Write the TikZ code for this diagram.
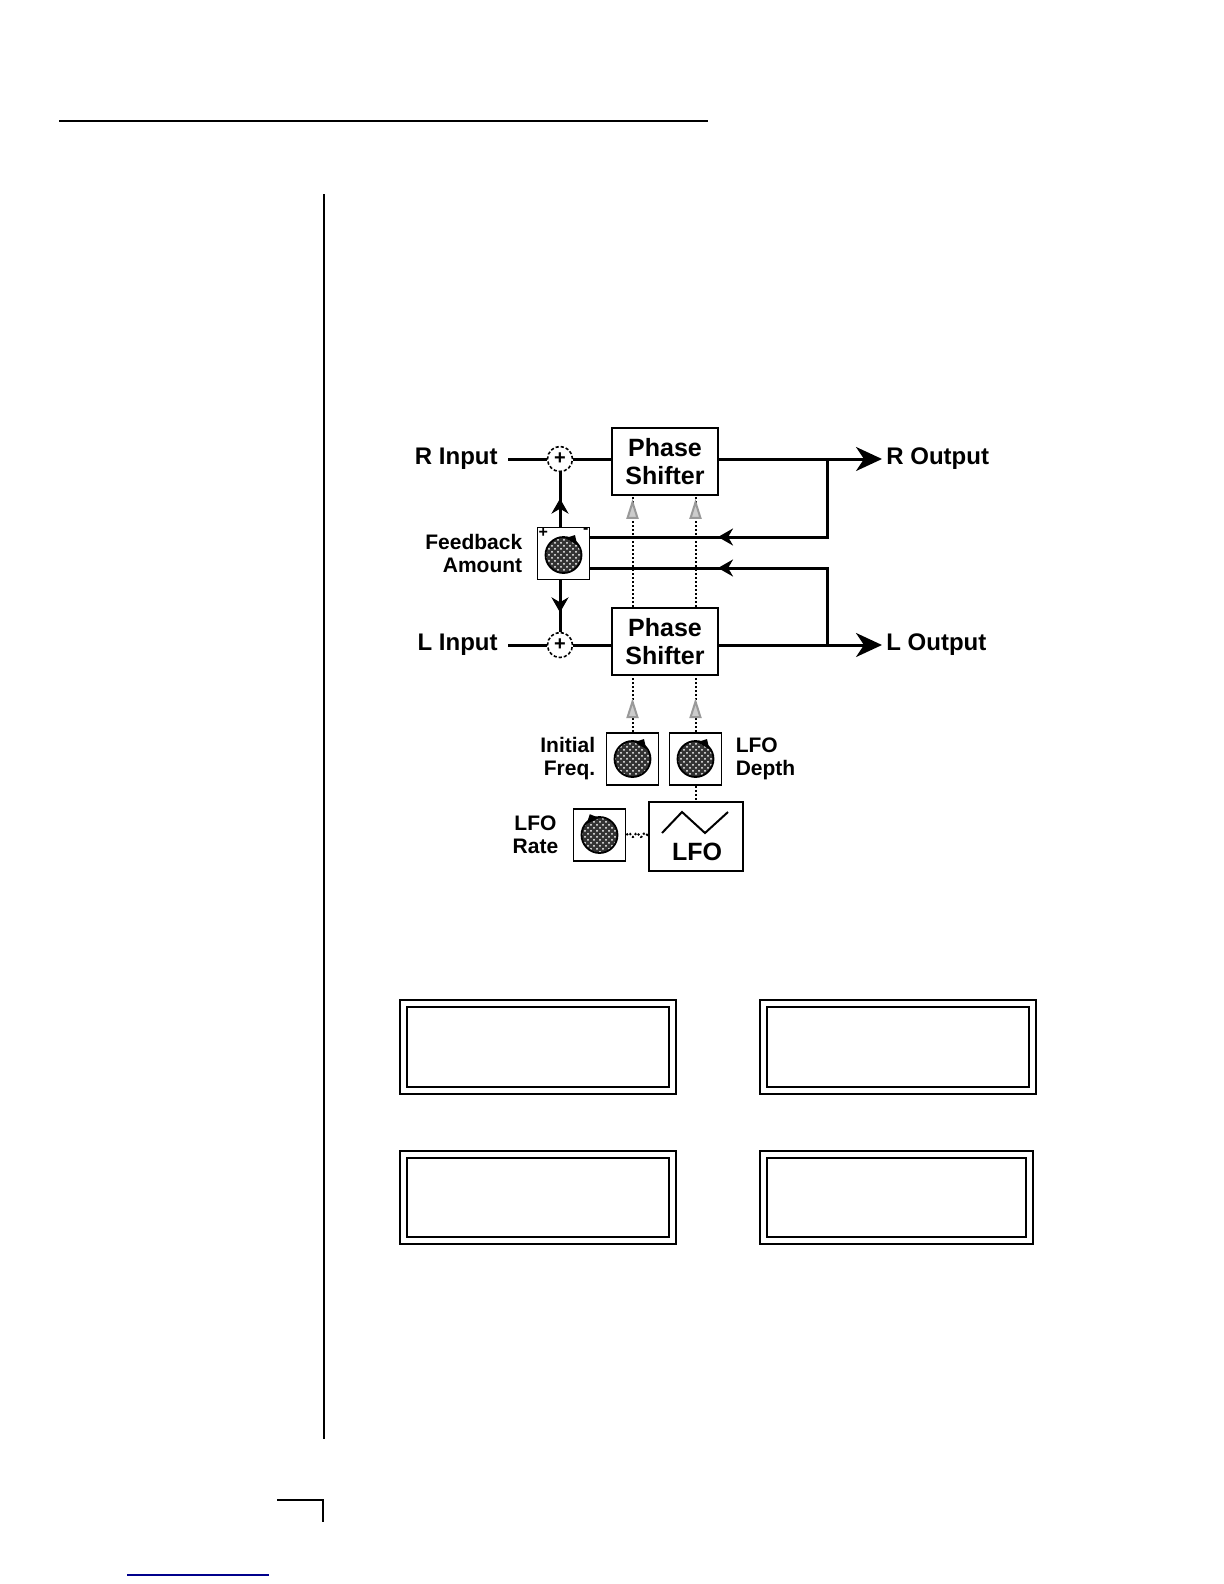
\documentclass[tikz,border=0pt]{standalone}
\usepackage{fontspec}
\setmainfont{Liberation Sans}
\usetikzlibrary{arrows.meta,positioning,patterns,decorations.markings,decorations.pathmorphing}

\tikzset{
  shifter/.style={draw, line width=1.2pt, minimum width=53pt, minimum height=33.5pt, inner sep=0pt, align=center, font=\fontsize{12.5}{14}\selectfont\bfseries},
  knobbox/.style={draw, line width=0.9pt, minimum width=26pt, minimum height=26pt, inner sep=0pt},
  knob/.style={circle, draw, line width=0.9pt, minimum size=18pt, inner sep=0pt, preaction={fill=black!80}, pattern=crosshatch dots, pattern color=white},
  sum/.style={circle, draw, dash pattern=on 1.6pt off 1pt, line width=0.8pt, minimum size=12.5pt, inner sep=0pt, font=\fontsize{10}{10}\selectfont\bfseries},
  sig/.style={line width=1.5pt},
  ctrl/.style={densely dotted, line width=1pt},
  lbl/.style={font=\fontsize{12}{14}\selectfont\bfseries, inner sep=2pt},
  knoblbl/.style={font=\fontsize{10.5}{11.5}\selectfont\bfseries, align=right, inner sep=0pt},
  lcd/.style={draw, double, line width=0.9pt, double distance=2.6pt, inner sep=0pt},
  midarrow/.style={postaction={decorate}, decoration={markings, mark=at position #1 with {\arrow{Stealth[length=7.5pt,width=8.5pt]}}}},
  ctrlarrow/.style={postaction={decorate}, decoration={markings, mark=at position #1 with {\arrow{Triangle[length=10pt,width=6pt,fill=gray!40,color=gray!80]}}}},
}

\begin{document}
\begin{tikzpicture}[x=0.5pt, y=-0.5pt]
\useasboundingbox (0,0) rectangle (1224,1584);

% page rules
\draw[line width=1.2pt] (59,121) -- (708,121);
\draw[line width=0.9pt] (324,194) -- (324,1439);
\draw[line width=0.9pt] (277,1500) -- (323,1500) -- (323,1522);
\draw[line width=1pt, blue!55!black] (127,1575) -- (269,1575);

% phase shifters and summers
\node[shifter] (psR) at (665,461.5) {Phase\\Shifter};
\node[shifter] (psL) at (665,641.5) {Phase\\Shifter};
\node[sum] (sumR) at (560,459) {+};
\node[sum] (sumL) at (560,645) {+};

% feedback knob
\node[knobbox] (fb) at (563.5,553.5) {};
\node[knob] (fbK) at (563.5,555) {};
\node[font=\fontsize{8}{8}\selectfont\bfseries, inner sep=0.8pt, anchor=north west] at (fb.north west) {+};
\node[font=\fontsize{8}{8}\selectfont\bfseries, inner sep=0.8pt, anchor=north east] at (fb.north east) {-};
\node[knoblbl, left=7pt of fb] {Feedback\\Amount};

% inputs and outputs
\coordinate (inR) at (508,459);
\coordinate (inL) at (508,645);
\coordinate (jR) at (827,459);
\coordinate (jL) at (827,645);
\coordinate (outR) at (882,459);
\coordinate (outL) at (882,645);
\coordinate (fbInR) at (590,537);
\coordinate (fbInL) at (590,568);
\node[lbl, left=3pt] at (inR) {R Input};
\node[lbl, left=3pt] at (inL) {L Input};
\node[lbl, right] at (outR) {R Output};
\node[lbl, right] at (outL) {L Output};

\draw[sig] (inR) -- (sumR);
\draw[sig] (inL) -- (sumL);
\draw[sig] (sumR) -- (sumR -| psR.west);
\draw[sig] (sumL) -- (sumL -| psL.west);
\draw[sig, -{Stealth[length=13pt,width=12pt,inset=4pt]}] (psR.east |- sumR) -- (outR);
\draw[sig, -{Stealth[length=13pt,width=12pt,inset=4pt]}] (psL.east |- sumL) -- (outL);

% feedback paths
\draw[sig, midarrow=93.5pt] (jR) |- (fbInR);
\draw[sig, midarrow=93pt] (jL) |- (fbInL);
\draw[sig, midarrow=14pt] (sumR.south |- fb.north) -- (sumR.south);
\draw[sig, midarrow=16pt] (sumL.north |- fb.south) -- (sumL.north);

% modulation section
\node[knobbox] (iniF) at (632.5,759) {};
\node[knob] (ifK) at (iniF) {};
\node[knobbox] (dep) at (695.5,759) {};
\node[knob] (dpK) at (dep) {};
\node[knobbox] (rate) at (599.5,835) {};
\node[knob] (rtK) at (rate) {};
\node[draw, line width=1pt, minimum width=47pt, minimum height=34.5pt] (lfo) at (696,836.5) {};
\draw[line width=1pt] (662,833) -- (682,812) -- (705,833) -- (728,812);
\node[lbl, font=\fontsize{12.5}{14}\selectfont\bfseries] (lfoT) at (697,852) {LFO};

\node[knoblbl, left=5pt of iniF] {Initial\\Freq.};
\node[knoblbl, align=left, right=6.5pt of dep] {LFO\\Depth};
\node[knoblbl, align=center, left=7pt of rate] {LFO\\Rate};

% knob pointers
\foreach \k/\a in {fbK/60, ifK/60, dpK/60, rtK/115}
  \fill ([shift={(\a:11.5pt)}]\k.center) -- ([shift={({\a+24}:8.5pt)}]\k.center) -- ([shift={({\a-24}:8.5pt)}]\k.center) -- cycle;

% control lines
\foreach \k in {iniF, dep}
  \draw[ctrl, ctrlarrow=54pt] (psL.north -| \k.north) -- (psR.south -| \k.north);
\draw[ctrl, ctrlarrow=17pt] (iniF.north) -- (iniF.north |- psL.south);
\draw[ctrl, ctrlarrow=17pt] (dep.north) -- (dep.north |- psL.south);
\draw[ctrl] (dep.south) -- (dep.south |- lfo.north);
\draw[ctrl, decorate, decoration={snake, amplitude=1pt, segment length=4pt}] (rate.east) -- (lfo.west |- rate.east);

% display boxes
\node[lcd, minimum width=134.6pt, minimum height=43.6pt] (lcdA) at (538,1047) {};
\node[lcd, minimum width=134.6pt, minimum height=43.6pt] (lcdB) at (898,1047) {};
\node[lcd, minimum width=134.6pt, minimum height=43.1pt] (lcdC) at (538,1197.5) {};
\node[lcd, minimum width=133.1pt, minimum height=43.1pt] (lcdD) at (896.5,1197.5) {};
\end{tikzpicture}
\end{document}
